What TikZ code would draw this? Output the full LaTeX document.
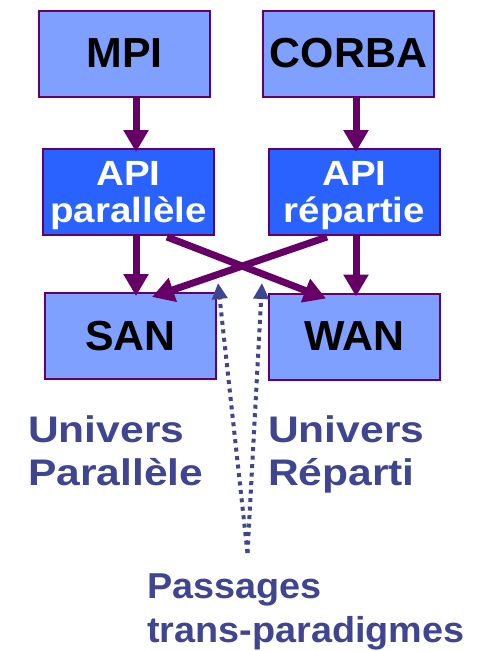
\documentclass[tikz,border=0pt]{standalone}
\usepackage{fontspec}
\setmainfont{Liberation Sans}
\newfontfamily\boxfont[FakeStretch=1.02]{Liberation Sans}
\newfontfamily\apifont[FakeStretch=1.1]{Liberation Sans}
\newfontfamily\labelfont[FakeStretch=1.15]{Liberation Sans}
\newfontfamily\passfont[FakeStretch=1.05]{Liberation Sans}
\usetikzlibrary{arrows.meta}
\definecolor{boxlight}{HTML}{80A0FF}
\definecolor{boxdark}{HTML}{2962FF}
\definecolor{plum}{HTML}{660066}
\definecolor{ink}{HTML}{3F4590}
\tikzset{
  layer/.style={draw=plum, line width=2pt, minimum width=171pt, minimum height=86pt,
    inner sep=0pt, align=center},
  toplayer/.style={layer, fill=boxlight, font=\boxfont\bfseries\fontsize{42}{44}\selectfont},
  apilayer/.style={layer, fill=boxdark, text=white, font=\apifont\bfseries\fontsize{35}{37}\selectfont},
  flow/.style={draw=plum, line width=7pt, -{Triangle[width=24pt,length=22pt]}},
  bridge/.style={draw=ink, line width=4pt, dash pattern=on 4pt off 4.5pt,
    -{Triangle[width=15pt,length=16pt]}},
  univ/.style={anchor=base west, inner sep=0pt, text=ink, font=\labelfont\bfseries\fontsize{37}{37}\selectfont},
  pass/.style={anchor=base west, inner sep=0pt, text=ink, font=\passfont\bfseries\fontsize{36}{36}\selectfont}
}
\newcommand\apistrut{\rule{0pt}{31pt}}
\begin{document}
\begin{tikzpicture}[x=1pt, y=-1pt]
\useasboundingbox (0,0) rectangle (494,651);

% software layers
\node[toplayer] (mpi) at (124.5,53.5) {MPI};
\node[toplayer] (corba) at (348.5,53.5) {CORBA};
\node[apilayer] (apipar) at (128.5,192) {\apistrut API\\parallèle};
\node[apilayer] (apirep) at (354.5,192) {\apistrut API\\répartie};
\node[toplayer] (san) at (130.5,336) {SAN};
\node[toplayer] (wan) at (354.5,336.5) {WAN};

% straight flows
\draw[flow] ([xshift=11.5pt]mpi.south) -- ([xshift=7.5pt,yshift=-4pt]apipar.north);
\draw[flow] ([xshift=7.5pt]corba.south) -- ([xshift=1.5pt,yshift=-4pt]apirep.north);
\draw[flow] ([xshift=7.5pt]apipar.south) -- ([xshift=5.5pt,yshift=-4pt]san.north);
\draw[flow] ([xshift=1.5pt]apirep.south) -- ([xshift=1.5pt,yshift=-4pt]wan.north);

% crossed flows
\draw[flow] ([xshift=38.5pt,yshift=-1pt]apipar.south) -- ([xshift=-28.5pt,yshift=-6pt]wan.north);
\draw[flow] ([xshift=-27.5pt,yshift=-1pt]apirep.south) -- ([xshift=21.5pt,yshift=-5pt]san.north);

% cross-paradigm passages
\coordinate (foot) at (247.5,553);
\coordinate (tipL) at (218,283);
\coordinate (tipR) at (262,283);
\draw[bridge] (foot) -- (tipL);
\draw[bridge] (foot) -- (tipR);

% labels
\node[univ] (upar1) at (28,442) {Univers};
\node[univ] (upar2) at (28,485) {Parallèle};
\node[univ] (urep1) at (268,442) {Univers};
\node[univ] (urep2) at (268,485) {Réparti};
\node[pass] (pass1) at (147,598) {Passages};
\node[pass] (pass2) at (147,642) {trans-paradigmes};
\end{tikzpicture}
\end{document}
